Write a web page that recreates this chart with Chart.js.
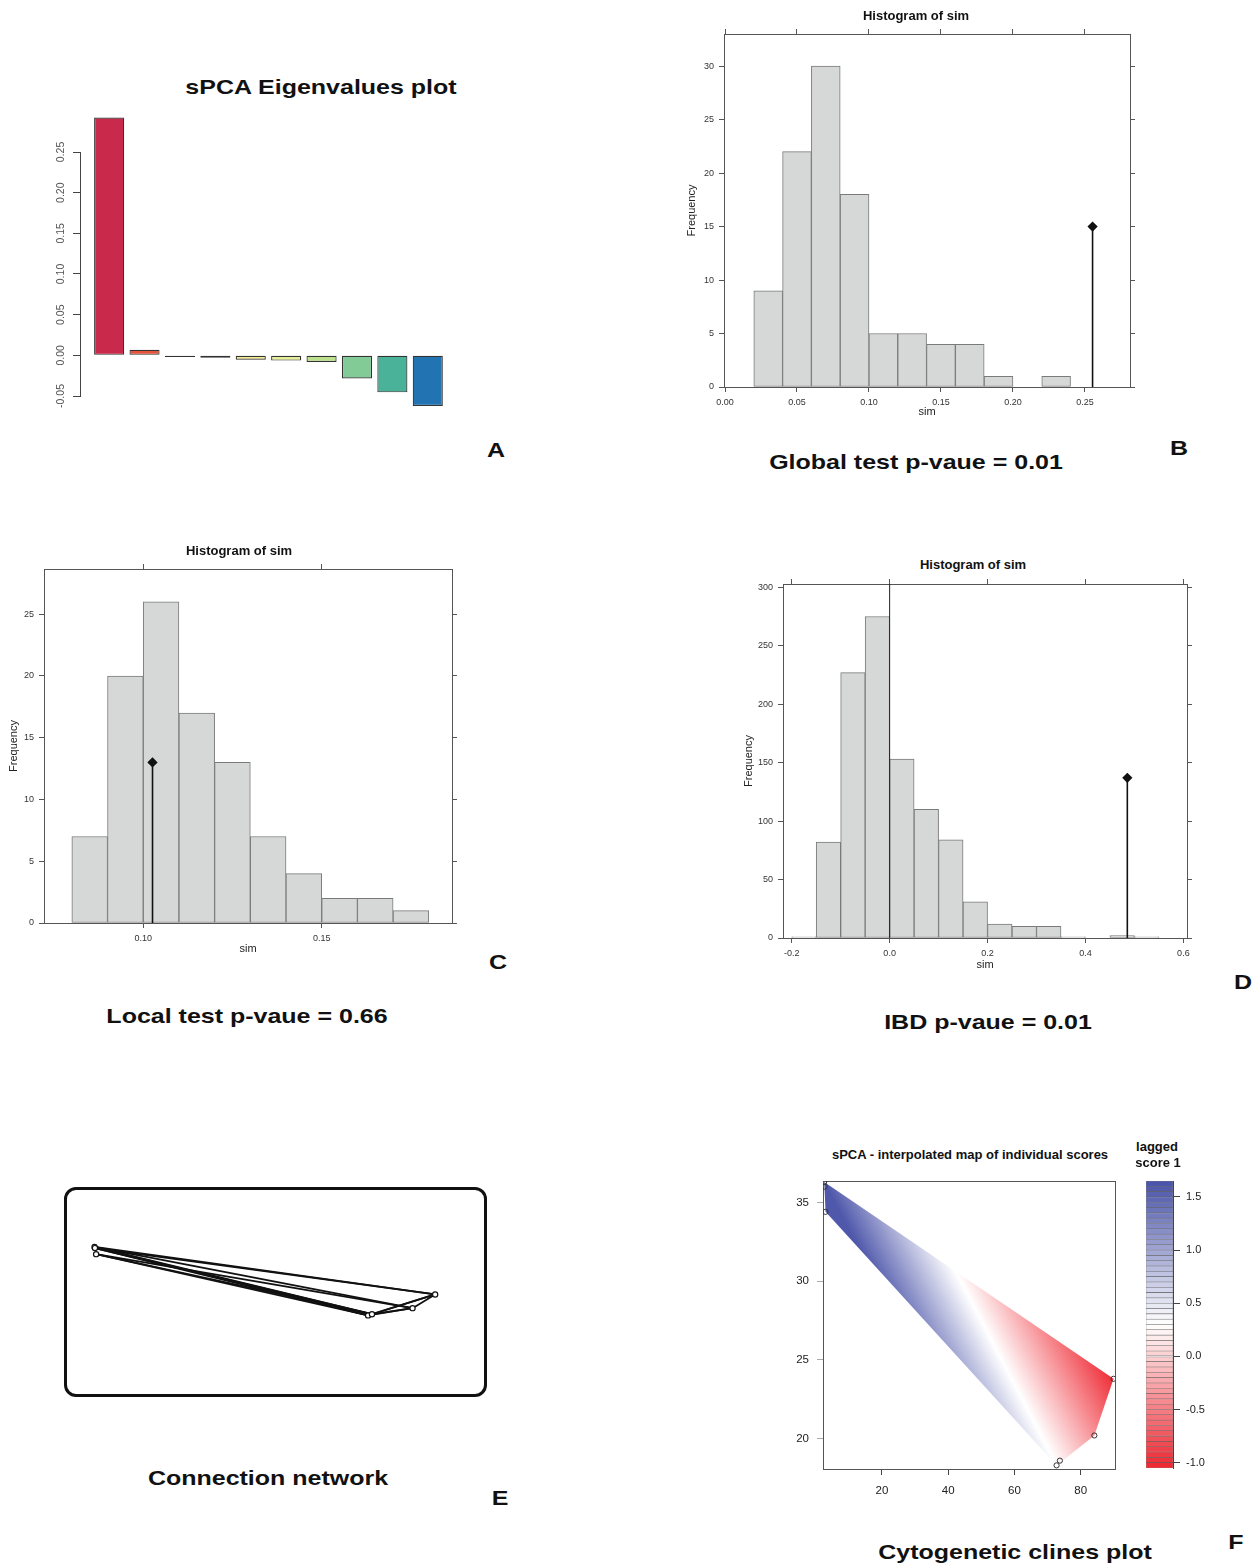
<!DOCTYPE html>
<html lang="en">
<head>
<meta charset="UTF-8">
<meta name="viewport" content="width=device-width, initial-scale=1.0">
<title>sPCA results</title>
<style>
  body { margin: 0; background: #fff; }
  #page { position: relative; width: 1260px; height: 1568px; overflow: hidden;
          font-family: "Liberation Sans", Arial, Helvetica, sans-serif; color: #111; }
  canvas { position: absolute; }
  .t { position: absolute; white-space: nowrap; line-height: 1; font-weight: bold;
       transform: translate(-50%, -50%); }
  .big { font-size: 21px; transform: translate(-50%, -50%) scaleX(1.19); }
  .small { font-size: 13px; }
  .box { position: absolute; box-sizing: border-box; border: 3px solid #111; border-radius: 12px; }
</style>
<script src="https://cdn.jsdelivr.net/npm/chart.js"></script>
</head>
<body>
<div id="page">
  <canvas id="eigen" width="420" height="314" style="left:40px;top:102px"></canvas>
  <canvas id="globalTest" width="461" height="401" style="left:681px;top:22px"></canvas>
  <canvas id="localTest" width="461" height="403" style="left:3px;top:557px"></canvas>
  <canvas id="ibdTest" width="461" height="404" style="left:738px;top:572px"></canvas>
  <div class="box" style="left:64px;top:1187px;width:423px;height:210px"></div>
  <canvas id="network" width="423" height="210" style="left:64px;top:1187px"></canvas>
  <canvas id="scoreMap" width="338" height="341" style="left:782px;top:1164px"></canvas>
  <canvas id="colorKey" width="77" height="315" style="left:1146px;top:1167px"></canvas>

  <div class="t big" style="left:321px;top:86px">sPCA Eigenvalues plot</div>
  <div class="t big" style="left:496px;top:449px">A</div>

  <div class="t small" style="left:916px;top:15px">Histogram of sim</div>
  <div class="t big" style="left:916px;top:461px">Global test p-vaue = 0.01</div>
  <div class="t big" style="left:1179px;top:447px">B</div>

  <div class="t small" style="left:239px;top:550px">Histogram of sim</div>
  <div class="t big" style="left:247px;top:1015px">Local test p-vaue = 0.66</div>
  <div class="t big" style="left:498px;top:961px">C</div>

  <div class="t small" style="left:973px;top:564px">Histogram of sim</div>
  <div class="t big" style="left:988px;top:1021px">IBD p-vaue = 0.01</div>
  <div class="t big" style="left:1243px;top:981px">D</div>

  <div class="t big" style="left:268px;top:1477px">Connection network</div>
  <div class="t big" style="left:500px;top:1497px">E</div>

  <div class="t small" style="left:970px;top:1154px">sPCA - interpolated map of individual scores</div>
  <div class="t small" style="left:1157px;top:1146px">lagged</div>
  <div class="t small" style="left:1158px;top:1162px">score 1</div>
  <div class="t big" style="left:1015px;top:1551px">Cytogenetic clines plot</div>
  <div class="t big" style="left:1236px;top:1541px">F</div>
</div>
<script>
// ---- A: sPCA eigenvalues
const eigValues = [0.2924, 0.0068, -0.0020, -0.0030, -0.0055, -0.0065, -0.0082, -0.0285, -0.0455, -0.0623];
const eigColors = ['#C9294A', '#E5533A', '#A8744C', '#C29A58', '#F6EC8C', '#E3EE96', '#BCE08C', '#82CB96', '#4BB29A', '#2173B2'];
const eigTicks = [-0.05, 0, 0.05, 0.10, 0.15, 0.20, 0.25];

// ---- B: global test (permutation histogram)
const globalBreaks = [0.02, 0.04, 0.06, 0.08, 0.10, 0.12, 0.14, 0.16, 0.18, 0.20, 0.22, 0.24];
const globalCounts = [9, 22, 30, 18, 5, 5, 4, 4, 1, 0, 1];
const globalObs = 0.2553;
const globalObsHeight = 15;
const globalTicksX = [0, 0.05, 0.10, 0.15, 0.20, 0.25];
const globalTicksY = [0, 5, 10, 15, 20, 25, 30];

// ---- C: local test
const localBreaks = [0.08, 0.09, 0.10, 0.11, 0.12, 0.13, 0.14, 0.15, 0.16, 0.17, 0.18];
const localCounts = [7, 20, 26, 17, 13, 7, 4, 2, 2, 1];
const localObs = 0.1026;
const localObsHeight = 13;
const localTicksX = [0.10, 0.15];
const localTicksY = [0, 5, 10, 15, 20, 25];

// ---- D: IBD test
const ibdBreaks = [-0.20, -0.15, -0.10, -0.05, 0, 0.05, 0.10, 0.15, 0.20, 0.25, 0.30, 0.35, 0.40, 0.45, 0.50, 0.55];
const ibdCounts = [1, 82, 227, 275, 153, 110, 84, 31, 12, 10, 10, 1, 0, 2, 1];
const ibdObs = 0.4855;
const ibdObsHeight = 137;
const ibdRefLine = 0;
const ibdTicksX = [-0.2, 0, 0.2, 0.4, 0.6];
const ibdTicksY = [0, 50, 100, 150, 200, 250, 300];

// ---- E / F: sampling sites and connection network
const siteX = [2.6, 2.7, 3.0, 72.7, 73.7, 84.1, 89.9];
const siteY = [36.3, 36.0, 34.4, 18.3, 18.6, 20.2, 23.8];
const edgeFrom = [0, 0, 1, 1, 2, 2, 0, 1, 0, 2, 3, 4, 4, 5, 3];
const edgeTo   = [3, 4, 3, 4, 3, 4, 6, 6, 5, 5, 5, 5, 6, 6, 6];
const hullOrder = [0, 6, 5, 3, 2, 0];
// where the interpolated score crosses the middle of the key (white)
const midContourX = [42, 72.7];
const midContourY = [30.7, 18.3];
const scoreHigh = 1.6;   // top-left corner
const scoreLow = -1.0;   // right corner
const mapTicksX = [20, 40, 60, 80];
const mapTicksY = [20, 25, 30, 35];

// ---- F: colour key
const keyBreaks = [-1.05, -1.00, -0.95, -0.90, -0.85, -0.80, -0.75, -0.70, -0.65, -0.60, -0.55, -0.50,
  -0.45, -0.40, -0.35, -0.30, -0.25, -0.20, -0.15, -0.10, -0.05, 0, 0.05, 0.10, 0.15, 0.20, 0.25,
  0.30, 0.35, 0.40, 0.45, 0.50, 0.55, 0.60, 0.65, 0.70, 0.75, 0.80, 0.85, 0.90, 0.95, 1.00, 1.05,
  1.10, 1.15, 1.20, 1.25, 1.30, 1.35, 1.40, 1.45, 1.50, 1.55, 1.60, 1.65];
const keyTicks = [-1.0, -0.5, 0, 0.5, 1.0, 1.5];

const FONT = '"Liberation Sans", Arial, Helvetica, sans-serif';
Chart.defaults.font.family = FONT;
Chart.defaults.animation = false;
Chart.defaults.events = [];
Chart.defaults.plugins.legend.display = false;
Chart.defaults.plugins.tooltip.enabled = false;

function fix(size) {
  return function (s) { if (s.isHorizontal()) s.height = size; else s.width = size; };
}
function setTicks(vals) {
  return function (s) { s.ticks = vals.map(v => ({ value: v })); };
}

function scoreColor(v) {
  const lo = keyBreaks[0], hi = keyBreaks[keyBreaks.length - 1];
  const t = Math.max(0, Math.min(1, (v - lo) / (hi - lo)));
  const red = [238, 38, 48], white = [255, 255, 255], blue = [72, 82, 168];
  let a, b, f;
  if (t < 0.5) { a = red; b = white; f = t / 0.5; } else { a = white; b = blue; f = (t - 0.5) / 0.5; }
  const c = a.map((x, i) => Math.round(x + (b[i] - x) * f));
  return 'rgb(' + c.join(',') + ')';
}

// ---------- A
new Chart(document.getElementById('eigen'), {
  type: 'bar',
  data: {
    datasets: [{
      data: eigValues.map((v, i) => ({ x: i, y: v })),
      backgroundColor: eigColors,
      borderColor: '#333',
      borderWidth: 1.2,
      borderSkipped: false,
      barPercentage: 1,
      categoryPercentage: 0.85,
      clip: false
    }]
  },
  options: {
    responsive: false,
    layout: { padding: { top: 50, bottom: 20, left: 0, right: 0 } },
    scales: {
      x: { type: 'linear', display: false, min: -0.823, max: 9.91, offset: false,
           afterBuildTicks: setTicks(eigValues.map((v, i) => i)) },
      y: {
        type: 'linear', min: -0.05, max: 0.25,
        afterBuildTicks: setTicks(eigTicks), afterFit: fix(40),
        border: { display: true, color: '#444', width: 1 },
        grid: { drawOnChartArea: false, tickLength: 7, color: '#444' },
        ticks: { minRotation: 90, maxRotation: 90, crossAlign: 'center', padding: 0,
                 color: '#555', font: { size: 10.5 }, callback: v => v.toFixed(2) }
      }
    }
  }
});

// ---------- B, C, D histograms
function frameAxis(pos, min, max, vals, size, fmt, labelled, title) {
  return {
    type: 'linear', position: pos, min: min, max: max, offset: false,
    afterBuildTicks: setTicks(vals), afterFit: fix(size),
    border: { display: true, color: '#555', width: 1 },
    grid: { display: true, drawOnChartArea: false, drawTicks: true, tickLength: 5, color: '#555', offset: false },
    ticks: { display: labelled, padding: 5, color: '#333', font: { size: 9 }, callback: fmt,
             autoSkip: false, minRotation: 0, maxRotation: 0 },
    title: title ? { display: true, text: title, color: '#222', font: { size: 11 }, padding: { top: 4, bottom: 4 } }
                 : { display: false }
  };
}

function histogram(id, breaks, counts, obs, obsHeight, xr, yMax, ticksX, ticksY, digits, sz, refX) {
  const bars = counts.map((c, i) => ({ x: (breaks[i] + breaks[i + 1]) / 2, y: c }));
  const datasets = [
    { type: 'line', order: 0, data: [{ x: obs, y: 0 }, { x: obs, y: obsHeight }],
      borderColor: '#111', borderWidth: 1.6, tension: 0, fill: false,
      pointRadius: [0, 4], pointStyle: 'rectRot', pointBackgroundColor: '#111', pointBorderColor: '#111' },
    { type: 'bar', order: 1, data: bars, backgroundColor: '#D6D8D8', borderColor: '#7A7A7A',
      borderWidth: 1, borderSkipped: false, barPercentage: 1, categoryPercentage: 1 }
  ];
  if (refX !== undefined) {
    datasets.unshift({ type: 'line', order: 0, data: [{ x: refX, y: 0 }, { x: refX, y: yMax }],
      borderColor: '#222', borderWidth: 1, pointRadius: 0, fill: false });
  }
  const fmt = v => Number(v).toFixed(digits);
  new Chart(document.getElementById(id), {
    type: 'bar',
    data: { datasets: datasets },
    options: {
      responsive: false,
      layout: { padding: 0 },
      scales: {
        x: frameAxis('bottom', xr[0], xr[1], ticksX, sz[3], fmt, true, 'sim'),
        x2: frameAxis('top', xr[0], xr[1], ticksX, sz[1], fmt, false),
        y: frameAxis('left', 0, yMax, ticksY, sz[0], v => v, true, 'Frequency'),
        y2: frameAxis('right', 0, yMax, ticksY, sz[2], v => v, false)
      }
    }
  });
}

// sizes: [left, top, right, bottom] axis boxes
histogram('globalTest', globalBreaks, globalCounts, globalObs, globalObsHeight,
  [-0.0007, 0.2813], 33.0, globalTicksX, globalTicksY, 2, [43, 12, 12, 36]);
histogram('localTest', localBreaks, localCounts, localObs, localObsHeight,
  [0.0722, 0.1865], 28.66, localTicksX, localTicksY, 2, [41, 12, 12, 37]);
histogram('ibdTest', ibdBreaks, ibdCounts, ibdObs, ibdObsHeight,
  [-0.2178, 0.6074], 302.8, ibdTicksX, ibdTicksY, 1, [45, 12, 12, 38], ibdRefLine);

// ---------- E: connection network
const sitePts = siteX.map((x, i) => ({ x: x, y: siteY[i] }));
const edgeSets = edgeFrom.map((a, i) => ({
  data: [sitePts[a], sitePts[edgeTo[i]]],
  showLine: true, borderColor: '#111', borderWidth: 1.8, pointRadius: 0, order: 1
}));
new Chart(document.getElementById('network'), {
  type: 'scatter',
  data: {
    datasets: [{ data: sitePts, pointRadius: 2.6, pointBorderWidth: 1.2, pointBorderColor: '#111',
                 pointBackgroundColor: '#fff', order: 0 }].concat(edgeSets)
  },
  options: {
    responsive: false,
    layout: { padding: 0 },
    scales: {
      x: { type: 'linear', display: false, min: -3.9, max: 101.85 },
      y: { type: 'linear', display: false, min: -1.8, max: 50.7 }
    }
  }
});

// ---------- F: interpolated map
function mapFill(ctx) {
  const chart = ctx.chart;
  if (!chart.chartArea) return 'rgba(0,0,0,0)';
  const sx = chart.scales.x, sy = chart.scales.y;
  const P = (x, y) => [sx.getPixelForValue(x), sy.getPixelForValue(y)];
  const s = P(siteX[0], siteY[0]);
  const e = P(siteX[6], siteY[6]);
  const w0 = P(midContourX[0], midContourY[0]);
  const w1 = P(midContourX[1], midContourY[1]);
  let nx = w1[1] - w0[1], ny = -(w1[0] - w0[0]);
  const len = Math.hypot(nx, ny); nx /= len; ny /= len;
  const dist = p => (p[0] - s[0]) * nx + (p[1] - s[1]) * ny;
  const dEnd = dist(e), dMid = dist(w0);
  const mid = (keyBreaks[0] + keyBreaks[keyBreaks.length - 1]) / 2;
  const g = chart.ctx.createLinearGradient(s[0], s[1], s[0] + nx * dEnd, s[1] + ny * dEnd);
  g.addColorStop(0, scoreColor(scoreHigh));
  g.addColorStop(dMid / dEnd, scoreColor(mid));
  g.addColorStop(1, scoreColor(scoreLow));
  return g;
}

function mapAxis(pos, min, max, vals, size, labelled, tickColor, pad) {
  return {
    type: 'linear', position: pos, min: min, max: max,
    afterBuildTicks: setTicks(vals), afterFit: fix(size),
    border: { display: true, color: '#555', width: 1 },
    grid: { display: labelled, drawOnChartArea: false, tickLength: 6, color: tickColor },
    ticks: { display: labelled, padding: pad, color: '#222', font: { size: 11.5 }, autoSkip: false,
             minRotation: 0, maxRotation: 0 }
  };
}

new Chart(document.getElementById('scoreMap'), {
  type: 'scatter',
  data: {
    datasets: [
      { type: 'line', order: 0, data: sitePts, showLine: false, pointRadius: 2.6, pointBorderWidth: 1,
        pointBorderColor: '#333', pointBackgroundColor: 'rgba(255,255,255,0)' },
      { type: 'line', order: 1, data: hullOrder.map(i => sitePts[i]), fill: 'shape', tension: 0,
        borderWidth: 0, pointRadius: 0, backgroundColor: mapFill }
    ]
  },
  options: {
    responsive: false,
    layout: { padding: { top: 16, left: 0, right: 0, bottom: 0 } },
    scales: {
      x: mapAxis('bottom', 2.23, 90.33, mapTicksX, 36, true, '#444', 9),
      x2: mapAxis('top', 2.23, 90.33, mapTicksX, 1, false, '#444', 0),
      y: mapAxis('left', 18.07, 36.36, mapTicksY, 41, true, '#aaa', 8),
      y2: mapAxis('right', 18.07, 36.36, mapTicksY, 1, false, '#444', 0)
    }
  }
});

// ---------- F: colour key
const keySets = keyBreaks.slice(0, -1).map((lo, i) => ({
  data: [[lo, keyBreaks[i + 1]]],
  backgroundColor: scoreColor((lo + keyBreaks[i + 1]) / 2),
  borderColor: 'rgba(40,40,40,0.55)',
  borderWidth: 0.6,
  borderSkipped: false,
  grouped: false,
  barPercentage: 1,
  categoryPercentage: 1
}));
new Chart(document.getElementById('colorKey'), {
  type: 'bar',
  data: { labels: ['lagged score 1'], datasets: keySets },
  options: {
    responsive: false,
    layout: { padding: { top: 14, bottom: 14, left: 0, right: 0 } },
    scales: {
      x: { display: false },
      y: {
        type: 'linear', position: 'right', min: -1.05, max: 1.65,
        afterBuildTicks: setTicks(keyTicks), afterFit: fix(50),
        border: { display: true, color: '#444', width: 1 },
        grid: { drawOnChartArea: false, tickLength: 7, color: '#444' },
        ticks: { padding: 6, color: '#222', font: { size: 11 }, callback: v => Number(v).toFixed(1) }
      }
    }
  }
});
</script>
</body>
</html>
